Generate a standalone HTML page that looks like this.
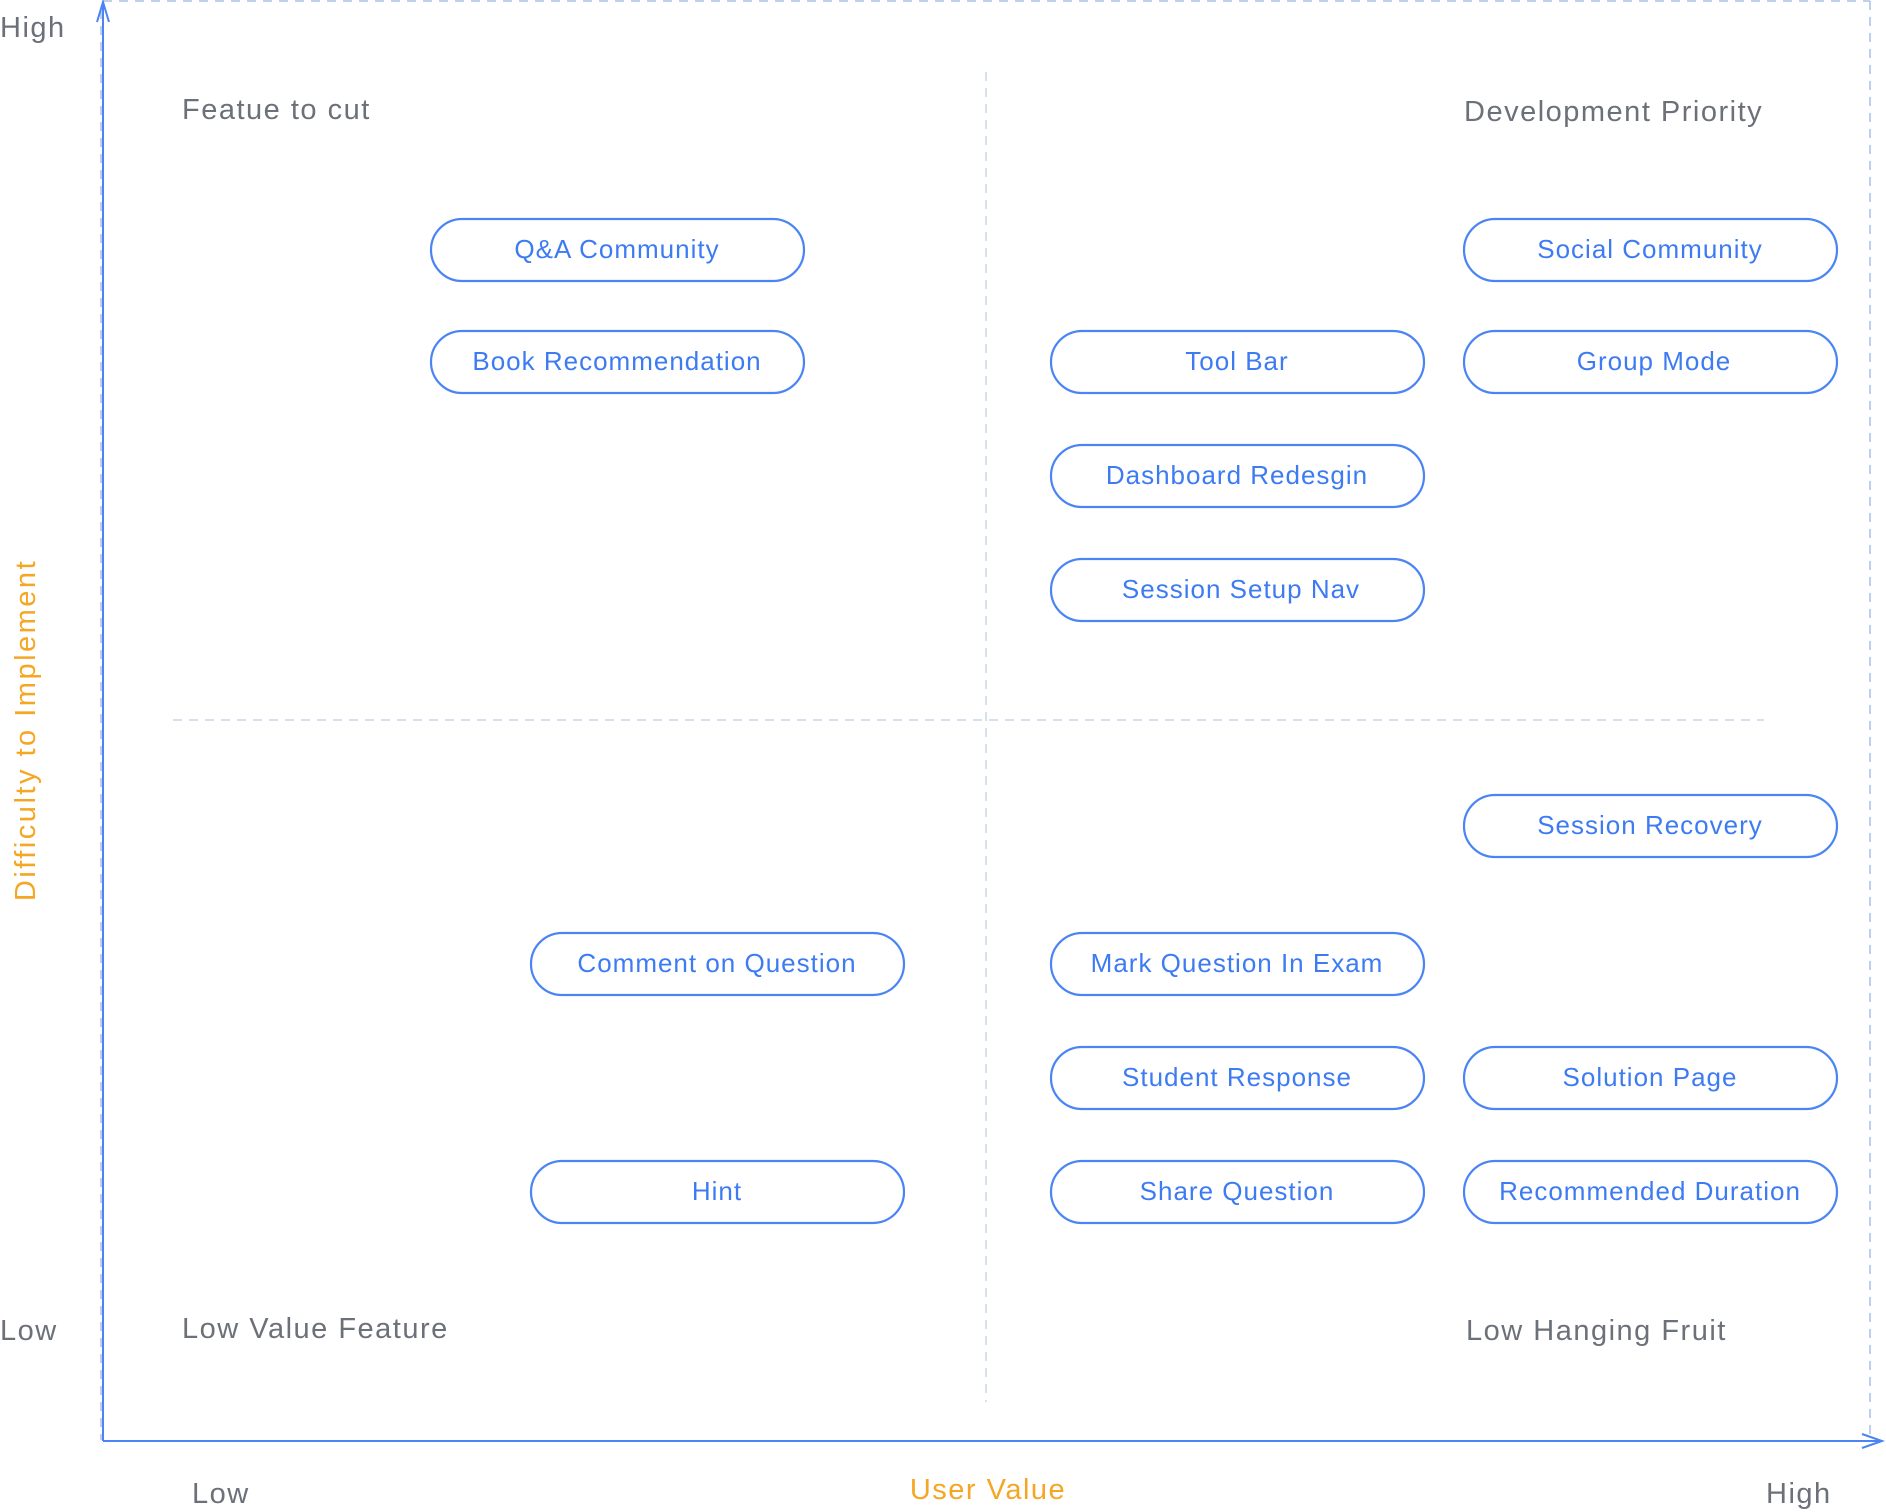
<!DOCTYPE html>
<html><head><meta charset="utf-8"><style>
html,body{margin:0;padding:0;background:#fff;width:1886px;height:1512px;overflow:hidden}
svg{display:block}
.p rect{fill:#fff;stroke:#4a84f5;stroke-width:2.2}
.p text{fill:#3d7bf3;font-family:"Liberation Sans",sans-serif;font-size:26px;text-anchor:middle;letter-spacing:1px}
.l{fill:#6b7079;font-family:"Liberation Sans",sans-serif;font-size:29px;letter-spacing:1.5px}
.o{fill:#f5a623;font-family:"Liberation Sans",sans-serif;font-size:29px;letter-spacing:1.5px}
</style></head><body>
<svg width="1886" height="1512" viewBox="0 0 1886 1512" xmlns="http://www.w3.org/2000/svg">
<g stroke="#a9c0e6" stroke-width="1.5" stroke-dasharray="9,7" fill="none">
<line x1="103" y1="1" x2="1870" y2="1"/>
<line x1="1870" y1="1" x2="1870" y2="1440"/>
<line x1="101" y1="10" x2="101" y2="1440"/>
</g>
<g stroke="#c9d5e8" stroke-width="1.5" stroke-dasharray="9,7" fill="none">
<line x1="986" y1="72" x2="986" y2="1402"/>
<line x1="173" y1="720" x2="1764" y2="720"/>
</g>
<g stroke="#4a84f5" stroke-width="2" fill="none">
<line x1="103" y1="2" x2="103" y2="1441"/>
<polyline points="97,22 103,2 109,22"/>
<line x1="103" y1="1441" x2="1882" y2="1441"/>
<polyline points="1862,1434 1882,1441 1862,1448"/>
</g>
<g class="p">
<rect x="431" y="219" width="373" height="62" rx="31"/><text x="617" y="258">Q&amp;A Community</text>
<rect x="431" y="331" width="373" height="62" rx="31"/><text x="617" y="370">Book Recommendation</text>
<rect x="1464" y="219" width="373" height="62" rx="31"/><text x="1650" y="258">Social Community</text>
<rect x="1051" y="331" width="373" height="62" rx="31"/><text x="1237" y="370">Tool Bar</text>
<rect x="1464" y="331" width="373" height="62" rx="31"/><text x="1654" y="370">Group Mode</text>
<rect x="1051" y="445" width="373" height="62" rx="31"/><text x="1237" y="484">Dashboard Redesgin</text>
<rect x="1051" y="559" width="373" height="62" rx="31"/><text x="1241" y="598">Session Setup Nav</text>
<rect x="1464" y="795" width="373" height="62" rx="31"/><text x="1650" y="834">Session Recovery</text>
<rect x="531" y="933" width="373" height="62" rx="31"/><text x="717" y="972">Comment on Question</text>
<rect x="1051" y="933" width="373" height="62" rx="31"/><text x="1237" y="972">Mark Question In Exam</text>
<rect x="1051" y="1047" width="373" height="62" rx="31"/><text x="1237" y="1086">Student Response</text>
<rect x="1464" y="1047" width="373" height="62" rx="31"/><text x="1650" y="1086">Solution Page</text>
<rect x="531" y="1161" width="373" height="62" rx="31"/><text x="717" y="1200">Hint</text>
<rect x="1051" y="1161" width="373" height="62" rx="31"/><text x="1237" y="1200">Share Question</text>
<rect x="1464" y="1161" width="373" height="62" rx="31"/><text x="1650" y="1200">Recommended Duration</text>
</g>
<text class="l" x="0" y="37">High</text>
<text class="l" x="182" y="119">Featue to cut</text>
<text class="l" x="1464" y="121">Development Priority</text>
<text class="l" x="182" y="1338">Low Value Feature</text>
<text class="l" x="1466" y="1340">Low Hanging Fruit</text>
<text class="l" x="0" y="1340">Low</text>
<text class="l" x="192" y="1503">Low</text>
<text class="o" x="988" y="1499" text-anchor="middle">User Value</text>
<text class="l" x="1766" y="1503">High</text>
<text class="o" x="0" y="0" text-anchor="middle" style="letter-spacing:2.5px" transform="translate(35,730) rotate(-90)">Difficulty to Implement</text>
</svg>
</body></html>
